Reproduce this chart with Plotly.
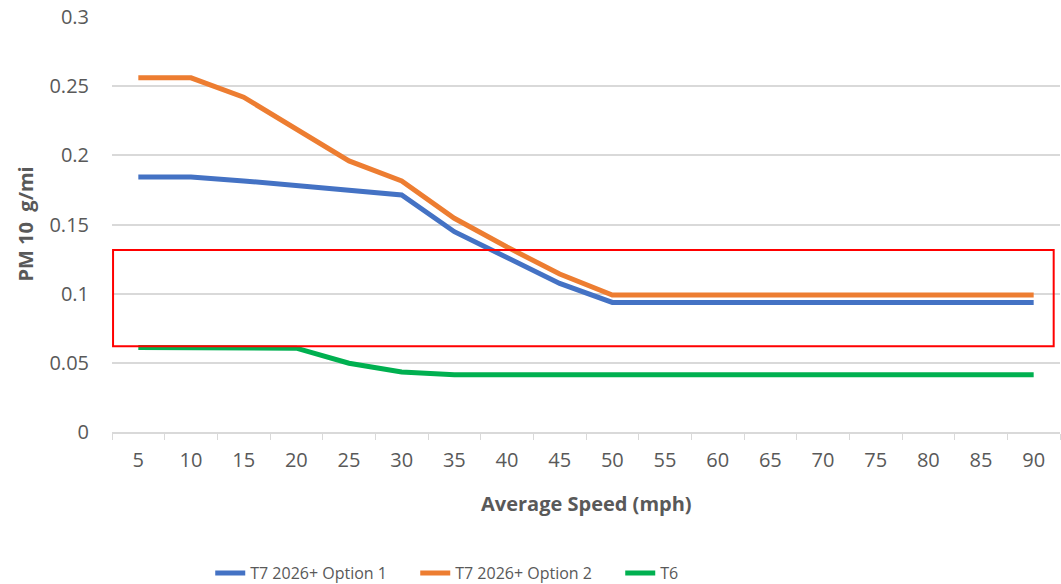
import plotly.graph_objects as go

speeds = [str(s) for s in range(5, 95, 5)]
option1 = [0.1844, 0.1844, 0.1815, 0.178, 0.174, 0.1714, 0.1448, 0.1265, 0.1074, 0.0937,
           0.0937, 0.0937, 0.0937, 0.0937, 0.0937, 0.0937, 0.0937, 0.0937]
option2 = [0.256, 0.256, 0.242, 0.2195, 0.196, 0.1815, 0.1545, 0.1337, 0.1142, 0.099,
           0.099, 0.099, 0.099, 0.099, 0.099, 0.099, 0.099, 0.099]
t6 = [0.0611, 0.0611, 0.0611, 0.0606, 0.0497, 0.0434, 0.0413, 0.0413, 0.0413, 0.0413,
      0.0413, 0.0413, 0.0413, 0.0413, 0.0413, 0.0413, 0.0413, 0.0413]
series_names = ["T7 2026+ Option 1", "T7 2026+ Option 2", "T6"]
colors = ["#4472C4", "#ED7D31", "#00B050"]
y_ticks = [0, 0.05, 0.1, 0.15, 0.2, 0.25, 0.3]
y_ticktext = ["0", "0.05", "0.1", "0.15", "0.2", "0.25", "0.3"]

FONT = "Open Sans"
GRAY = "#595959"

fig = go.Figure()
for name, vals, col in zip(series_names, [option1, option2, t6], colors):
    fig.add_trace(go.Scatter(x=speeds, y=vals, mode="lines", name=name,
                             line=dict(color=col, width=5)))

fig.add_shape(type="rect", xref="x", yref="y", x0=-0.48, x1=17.38, y0=0.062, y1=0.1316,
              line=dict(color="#FF0000", width=2), fillcolor="rgba(0,0,0,0)")

fig.update_layout(
    width=1061, height=584,
    margin=dict(l=112, r=1, t=17, b=152, autoexpand=False),
    paper_bgcolor="white", plot_bgcolor="white",
    font=dict(family=FONT, size=20, color=GRAY),
    showlegend=True,
    legend=dict(orientation="h", x=0.428, xanchor="center", y=-0.34, yanchor="middle",
                font=dict(family=FONT, size=16, color=GRAY), itemwidth=30,
                entrywidth=160, traceorder="normal"),
    xaxis=dict(type="category", range=[-0.5, 17.5], showgrid=False,
               showline=True, linecolor="#D9D9D9", linewidth=1.5,
               ticks="outside", tickson="boundaries", ticklen=6, tickcolor="#D9D9D9",
               tickfont=dict(family=FONT, size=20, color=GRAY), ticklabelstandoff=9),
    yaxis=dict(range=[0, 0.3], tickvals=y_ticks, ticktext=y_ticktext,
               showgrid=True, gridcolor="#D9D9D9", gridwidth=1.5,
               zeroline=False, showline=False, ticks="",
               tickfont=dict(family=FONT, size=20, color=GRAY), ticklabelstandoff=22),
    annotations=[
        dict(text="<b>Average Speed (mph)</b>", xref="paper", yref="paper", x=0.5, y=0,
             yshift=-71, xanchor="center", yanchor="middle", showarrow=False,
             font=dict(family=FONT, size=20, color=GRAY)),
        dict(text="<b>PM 10  g/mi</b>", xref="paper", yref="paper", x=0, y=0.5,
             xshift=-87, xanchor="center", yanchor="middle", showarrow=False, textangle=-90,
             font=dict(family=FONT, size=20, color=GRAY)),
    ],
)

fig.write_html("out.html")
